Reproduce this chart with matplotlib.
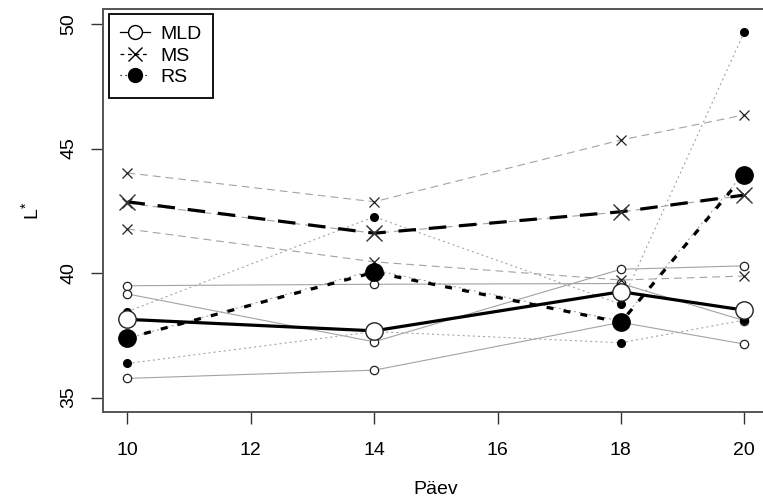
import numpy as np
import matplotlib
matplotlib.use("Agg")
import matplotlib.pyplot as plt
from matplotlib.lines import Line2D

plt.rcParams['font.family'] = ['Liberation Sans', 'DejaVu Sans']
plt.rcParams['mathtext.fontset'] = 'custom'
plt.rcParams['mathtext.rm'] = 'Liberation Sans'

days = [10, 14, 18, 20]

# individual samples
mld_1 = [39.49, 39.55, 39.58, 38.09]
mld_2 = [39.16, 37.24, 40.15, 40.29]
mld_3 = [35.77, 36.10, 38.02, 37.15]
ms_1 = [44.02, 42.86, 45.34, 46.35]
ms_2 = [41.77, 40.45, 39.72, 39.88]
ms_3 = [42.80, 41.60, 42.45, 43.12]
rs_1 = [38.45, 42.26, 38.75, 49.67]
rs_2 = [36.37, 37.65, 37.20, 38.11]
rs_3 = [37.38, 40.12, 38.07, 44.04]

# group means
mld_mean = [38.14, 37.68, 39.25, 38.51]
ms_mean = [42.86, 41.60, 42.46, 43.13]
rs_mean = [37.39, 40.03, 38.02, 43.94]

grey = '#a3a3a3'
fig = plt.figure(figsize=(7.63, 5.04), dpi=100)
ax = fig.add_axes([0.1347, 0.1825, 0.873, 0.7996])

for s in [mld_1, mld_2, mld_3]:
    ax.plot(days, s, color=grey, lw=0.8, ls='-', marker='o', ms=6,
            mfc='white', mec='#222222', mew=0.9)
for s in [ms_1, ms_2, ms_3]:
    ax.plot(days, s, color=grey, lw=0.8, dashes=(7, 4.5), marker='x', ms=6.5,
            mec='#222222', mew=0.9)
for s in [rs_1, rs_2, rs_3]:
    ax.plot(days, s, color=grey, lw=0.8, dashes=(1.8, 2.8), marker='o', ms=5.5,
            mfc='black', mec='black')

ax.plot(days, mld_mean, color='black', lw=2.3, ls='-', marker='o', ms=12.5,
        mfc='white', mec='#222222', mew=1.0, zorder=5)
ax.plot(days, ms_mean, color='black', lw=2.3, dashes=(5.5, 4.0), marker='x', ms=12,
        mec='#333333', mew=1.0, zorder=5)
ax.plot(days, rs_mean, color='black', lw=2.3, dashes=(2.2, 3.2), marker='o', ms=12.5,
        mfc='black', mec='black', zorder=5)

ax.set_xlim(9.6, 20.4)
ax.set_ylim(34.42, 50.6)
ax.set_xticks([10, 12, 14, 16, 18, 20])
ax.set_yticks([35, 40, 45, 50])
ax.tick_params(axis='both', direction='out', length=8.5, width=1.0, color='#333333',
               labelsize=14)
ax.tick_params(axis='x', pad=13)
ax.tick_params(axis='y', pad=10, labelrotation=90)
for lbl in ax.get_yticklabels():
    lbl.set_va('center')
for sp in ax.spines.values():
    sp.set_color('#555555')
    sp.set_linewidth(1.4)

ax.set_xlabel('Päev', fontsize=14, labelpad=16)
ax.set_ylabel(r'$\mathrm{L}^{*}$', fontsize=14, labelpad=12)

handles = [
    Line2D([], [], color='black', lw=0.9, ls='-', marker='o', ms=10, mfc='white', mec='black'),
    Line2D([], [], color='black', lw=0.9, dashes=(3, 3), marker='x', ms=10, mec='black'),
    Line2D([], [], color='black', lw=0.9, dashes=(1, 3), marker='o', ms=10, mfc='black'),
]
leg = ax.legend(handles, ['MLD', 'MS', 'RS'], loc='upper left',
                bbox_to_anchor=(0.009, 0.988), borderaxespad=0, fontsize=14,
                handlelength=1.5, handletextpad=0.55, labelspacing=0.2,
                borderpad=0.6, fancybox=False, framealpha=1, edgecolor='black')
leg.get_frame().set_linewidth(1.3)

plt.savefig('out.png', dpi=100)
